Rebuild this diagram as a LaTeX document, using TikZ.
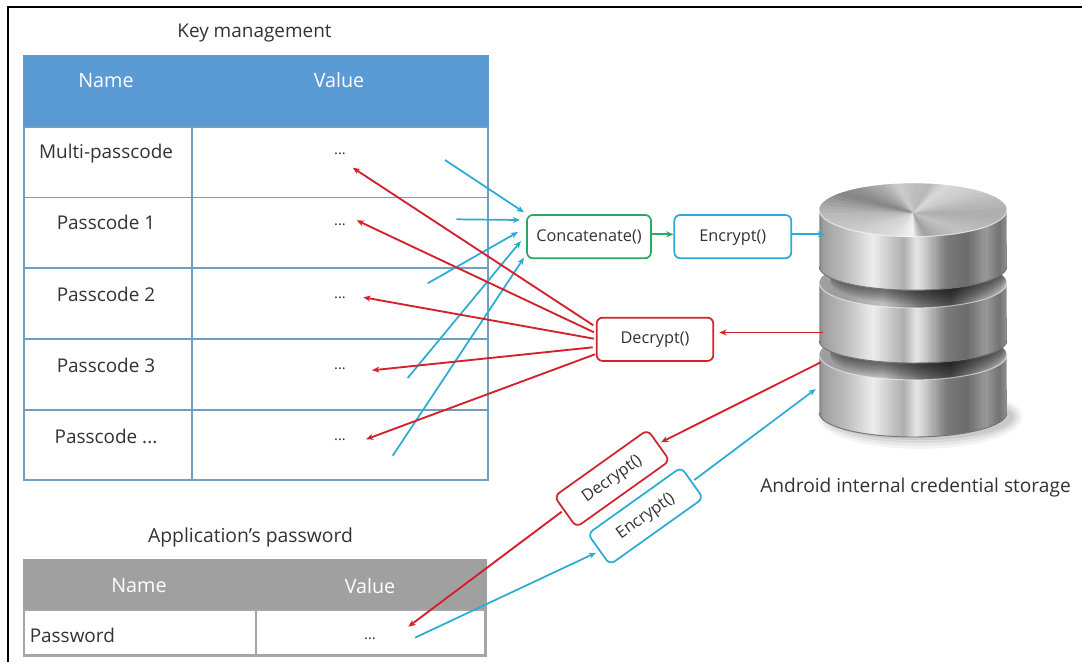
\documentclass[tikz,border=0pt]{standalone}
\usepackage{fontspec}
\setmainfont{Open Sans}
\usetikzlibrary{arrows.meta}
\definecolor{hblue}{HTML}{5B9BD5}
\definecolor{lblue}{HTML}{6FA0C4}
\definecolor{hgray}{HTML}{A0A0A0}
\definecolor{lgray}{HTML}{A6A6A6}
\definecolor{cred}{HTML}{D2222D}
\definecolor{cblue}{HTML}{2BACD4}
\definecolor{cgreen}{HTML}{2CA866}
\definecolor{ink}{HTML}{333333}
\tikzset{
  x=0.75pt,y=-0.75pt,
  txt/.style={text=ink,font=\fontsize{14.2pt}{16pt}\selectfont,inner sep=0pt},
  head/.style={txt,text=white,font=\fontsize{14.8pt}{16pt}\selectfont},
  small/.style={text=ink,font=\fontsize{12.2pt}{14pt}\selectfont,inner sep=0pt,text height=9.4pt,text depth=2.4pt},
  dots/.style={text=ink,font=\fontsize{11pt}{13pt}\selectfont,inner sep=0pt},
  fn/.style={rounded corners=4.5pt,line width=1.3pt,fill=white,draw,inner sep=0pt,small},
  bluetab/.style={draw=lblue,line width=1.4pt},
  graytab/.style={draw=lgray,line width=1.9pt},
  redarr/.style={draw=cred,line width=1.4pt,-{Stealth[length=5.5pt,width=4.5pt]}},
  bluearr/.style={draw=cblue,line width=1.3pt,-{Stealth[length=5.5pt,width=4.5pt]}},
  greenarr/.style={draw=cgreen,line width=1.3pt,-{Stealth[length=5.5pt,width=4.5pt]}},
}
% vertical strips of interpolated grey between ytop and ybot
\newcommand\gradstrips[3]{%
  \foreach \fa/\fb/\ga/\gb in #1 {
    \pgfmathtruncatemacro\nn{max(1,(\fb-\fa)*1.25)}
    \foreach \i in {1,...,\nn} {
      \pgfmathsetmacro\gv{\ga+(\gb-\ga)*(\i-.5)/\nn}
      \pgfmathsetmacro\xa{819.3+1.874*(\fa+(\fb-\fa)*(\i-1)/\nn)}
      \pgfmathsetmacro\xb{819.3+1.874*(\fa+(\fb-\fa)*\i/\nn)+1}
      \fill[white!\gv!black] (\xa,#2) rectangle (\xb,#3);
    }
  }%
}
\def\metallist{0/2/50/62,2/15/62/75,15/29/75/93,29/36/93/82,36/45/82/68,45/52/68/90,52/57/90/78,57/68/78/48,68/79/48/42,79/89/42/60,89/96/60/45,96/100/45/55}
\def\darklist{0/14/62/62,14/34/62/75,34/54/75/45,54/70/45/28,70/86/28/55,86/100/55/70}
% side of a disc: top y, bottom y, y radius in pt
\newcommand\discside[3]{%
  \begin{scope}
    \clip (819.3,#1) -- (819.3,#2) arc[start angle=180,end angle=360,x radius=70.3pt,y radius=#3pt] -- (1006.7,#1) -- cycle;
    \gradstrips{\metallist}{#1}{#2+40}
  \end{scope}
  \draw[black!55,line width=.7pt] (819.3,#2) arc[start angle=180,end angle=360,x radius=70.3pt,y radius=#3pt];
}
% recessed top of a lower disc: centre y, and y of the disc above's lower rim centre
\newcommand\discface[2]{%
  \begin{scope}
    \clip (913,#1) ellipse[x radius=70.3pt,y radius=18.7pt];
    \gradstrips{\darklist}{#1-26}{#1+26}
    \foreach \s in {2,4,...,14} {
      \fill[black,opacity=.08] (918,#2+\s) ellipse[x radius=66pt,y radius=17.5pt];
    }
  \end{scope}
  \draw[white,opacity=.55,line width=.8pt] (819.3,#1) arc[start angle=180,end angle=360,x radius=70.3pt,y radius=18.7pt];
}
\begin{document}
\begin{tikzpicture}
\useasboundingbox (0,0) rectangle (1082,662);
\fill[white] (0,0) rectangle (1082,662);
\draw[black,line width=1.5pt] (8,662) -- (8,7) -- (1082,7);

% ---- key management table
\node[txt] (ktitle) at (254.5,33) {Key management};
\fill[hblue] (23,55) rectangle (489,127);
\draw[bluetab] (23.7,127) rectangle (488.3,480);
\foreach \yy in {197.5,268,339,410} \draw[bluetab] (23.7,\yy) -- (488.3,\yy);
\draw[bluetab] (192,127) -- (192,480);
\node[head] (kname) at (106,81) {Name};
\node[head] (kvalue) at (339,80) {Value};
\node[txt] (r0) at (106,154) {Multi-passcode};
\node[txt] (r1) at (106,222) {Passcode 1};
\node[txt] (r2) at (106,294) {Passcode 2};
\node[txt] (r3) at (106,365) {Passcode 3};
\node[txt] (r4) at (106,436) {Passcode ...};
\node[dots] (v0) at (340,154) {...};
\node[dots] (v1) at (340,225) {...};
\node[dots] (v2) at (340,297.5) {...};
\node[dots] (v3) at (340,368.5) {...};
\node[dots] (v4) at (340,440) {...};

% ---- password table
\node[txt,font=\fontsize{14.5pt}{16pt}\selectfont] (ptitle) at (250.5,537) {Application’s password};
\fill[hgray] (23,559) rectangle (487,610);
\draw[graytab] (24,610) rectangle (485.5,655.5);
\draw[graytab] (256,610) -- (256,655.5);
\node[head] (pname) at (139,586) {Name};
\node[head] (pvalue) at (370,586) {Value};
\node[txt,anchor=west] (pw) at (29.5,635) {Password};
\node[dots] (pv) at (370,639) {...};

% ---- database
\foreach \s/\o in {0/.04,3/.05,6/.06,9/.07} {
  \fill[black,opacity=\o] (920,417) ellipse[x radius={77pt-\s*.75pt},y radius={24pt-\s*.75pt}];
}
\discside{355}{413}{18}
\discface{355}{341}
\discside{283}{341}{16.5}
\discface{283}{266.7}
\discside{210}{266.7}{17.6}
\begin{scope}
  \clip (913,210) ellipse[x radius=70.3pt,y radius=20pt];
  \foreach \a/\b/\g/\h in {0/20/68/80,20/40/80/85,40/60/85/72,60/90/72/75,90/120/75/80,120/150/80/62,150/165/62/52,165/180/52/72,180/200/72/82,200/225/82/86,225/250/86/92,250/270/92/95,270/285/95/75,285/300/75/62,300/320/62/70,320/340/70/76,340/360/76/68} {
    \pgfmathsetmacro\stp{(\b-\a)/6}
    \foreach \i in {0,1,2,3,4,5} {
      \pgfmathsetmacro\gq{\g+(\h-\g)*(\i+.5)/6}
      \pgfmathsetmacro\aa{\a+\i*\stp}
      \pgfmathsetmacro\ab{\a+(\i+1)*\stp+2}
      \fill[white!\gq!black,shift={(913,213)}] (\aa:-1pt) -- (\aa:200pt) -- (\ab:200pt) -- (\ab:-1pt) -- cycle;
    }
  }
\end{scope}
\draw[white,opacity=.6,line width=.8pt] (819.3,210) arc[start angle=180,end angle=360,x radius=70.3pt,y radius=20pt];

% ---- function boxes
\node[fn,draw=cgreen,minimum width=93pt,minimum height=32.5pt] (conc) at (589,236.6) {Concatenate()};
\node[fn,draw=cblue,minimum width=87.7pt,minimum height=32.5pt] (enc) at (732.8,236.6) {Encrypt()};
\node[fn,draw=cred,minimum width=87.5pt,minimum height=32.5pt] (dec) at (655,339.3) {Decrypt()};
\node[fn,draw=cred,rotate=35.5,minimum width=86pt,minimum height=28.5pt] (rdec) at (612,478.5) {Decrypt()};
\node[fn,draw=cblue,rotate=35.5,minimum width=86pt,minimum height=28.5pt] (renc) at (645.5,516) {Encrypt()};
\node[txt,font=\fontsize{14.35pt}{16pt}\selectfont] (dbl) at (915.5,488) {Android internal credential storage};

% ---- free ends
\foreach \n/\p in {
  b1s/{445,160},b1e/{524,212.3},b2s/{456.3,219.3},b2e/{520,220},b3s/{427.7,283.3},b3e/{518,232},
  b4s/{407.7,378},b4e/{521,241},b5s/{392.7,455.7},b5e/{524,257.7},
  r1s/{593.3,325.3},r1e/{352.7,167.7},r2s/{594,332.3},r2e/{356.7,220.3},r3s/{594,338.7},r3e/{363.3,297.3},
  r4s/{592.7,347.3},r4e/{372,370.3},r5s/{595,354.3},r5e/{366,439.3},
  gs/{651,234.3},ge/{673.5,234.3},es/{791,234.3},ee/{825,234.3},
  ds/{823.3,332.5},de/{719.3,332.5},
  rds/{820.7,362.3},rde/{661,442.3},
  ubs/{694.3,480},ube/{815.7,389},
  lrs/{561.7,511.7},lre/{408.3,626.7},
  lbs/{415,637.7},lbe/{596,552.7}} {
  \coordinate (\n) at (\p);
}
% ---- connectors
\foreach \k in {b1,b2,b3,b4,b5} \draw[bluearr] (\k s) -- (\k e);
\foreach \k in {r1,r2,r3,r4,r5} \draw[redarr] (\k s) -- (\k e);
\draw[greenarr] (gs) -- (ge);
\draw[bluearr] (es) -- (ee);
\draw[redarr] (ds) -- (de);
\draw[redarr] (rds) -- (rde);
\draw[bluearr] (ubs) -- (ube);
\draw[redarr] (lrs) -- (lre);
\draw[bluearr] (lbs) -- (lbe);
\end{tikzpicture}
\end{document}
